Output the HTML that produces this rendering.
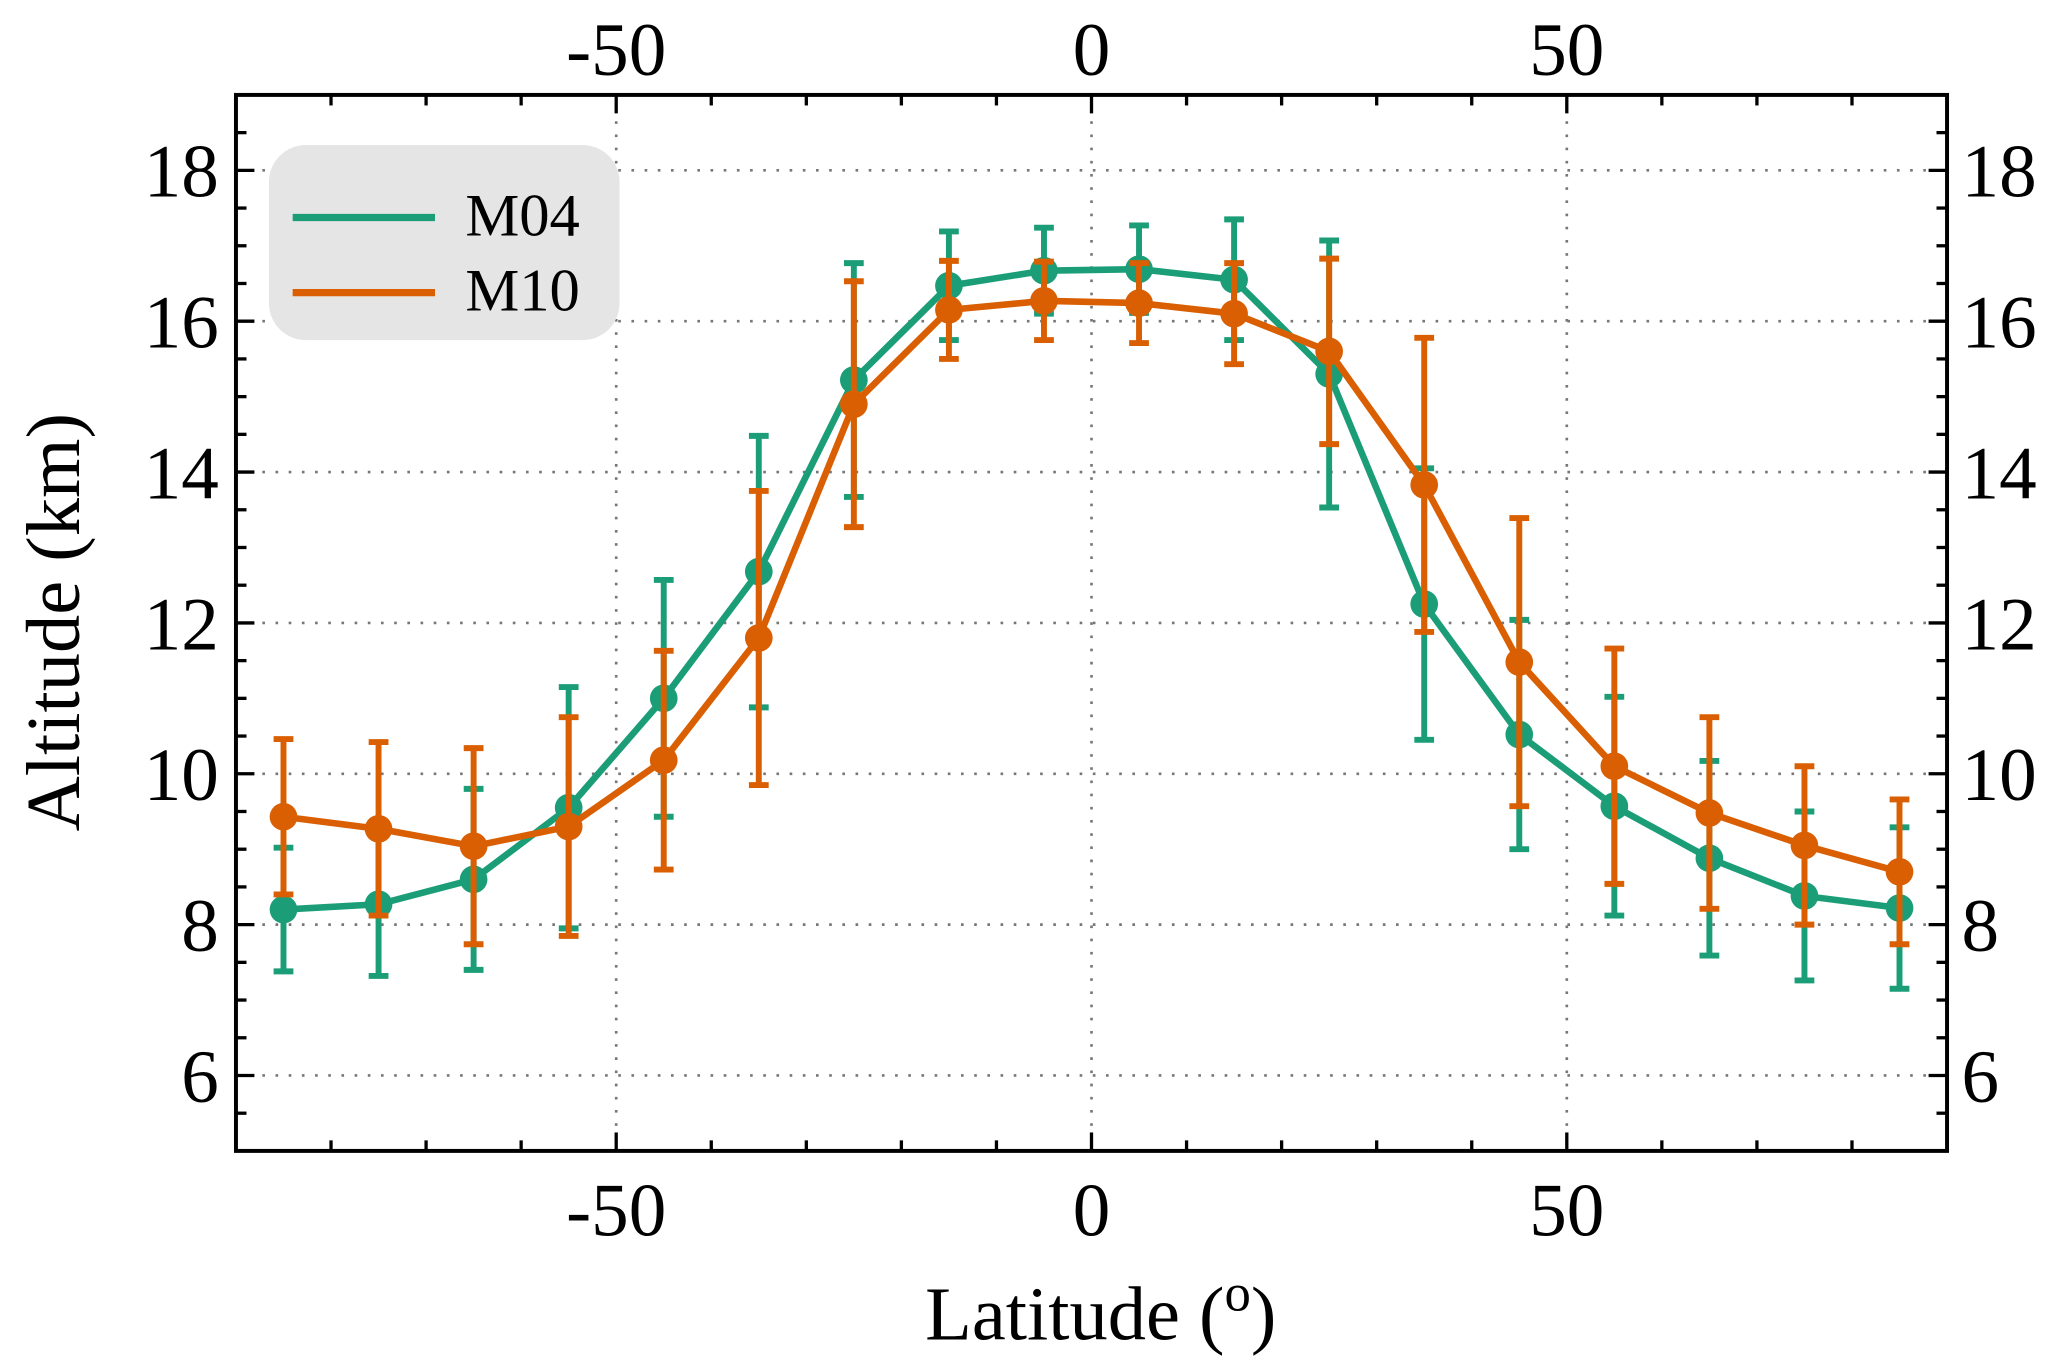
<!DOCTYPE html>
<html><head><meta charset="utf-8"><style>
html,body{margin:0;padding:0;background:#fff;}
svg{display:block;font-family:"Liberation Serif","DejaVu Serif",serif;}
</style></head><body>
<svg id="chart" width="2067" height="1372" viewBox="0 0 1568 1040.7" preserveAspectRatio="none" xmlns="http://www.w3.org/2000/svg">
<g id="grid"></g>
<g id="series"></g>
<g id="axes"></g>
<g id="legend">
<rect x="204" y="110" width="266" height="148" rx="28" fill="#e5e5e5"/>
<line x1="222" x2="330" y1="165" y2="165" stroke="#1b9e77" stroke-width="5.5"/>
<text x="353" y="168" font-size="46" dominant-baseline="middle">M04</text>
<line x1="222" x2="330" y1="222" y2="222" stroke="#d95f02" stroke-width="5.5"/>
<text x="353" y="225" font-size="46" dominant-baseline="middle">M10</text>
</g>
<text x="835" y="1016" font-size="58" text-anchor="middle">Latitude  (<tspan font-size="40" dy="-22">o</tspan><tspan dy="22">)</tspan></text>
<text transform="translate(60,472) rotate(-90)" font-size="58" text-anchor="middle">Altitude (km)</text>
</svg>
<script>
const lats = [-85,-75,-65,-55,-45,-35,-25,-15,-5,5,15,25,35,45,55,65,75,85];
const m04 = [8.2,8.27,8.6,9.55,11.0,12.68,15.22,16.47,16.67,16.69,16.55,15.3,12.25,10.52,9.57,8.88,8.38,8.22];
const m04Err = [0.82,0.95,1.2,1.6,1.57,1.8,1.55,0.72,0.57,0.58,0.8,1.77,1.8,1.52,1.45,1.29,1.12,1.07];
const m10 = [9.43,9.27,9.04,9.3,10.18,11.8,14.9,16.15,16.27,16.24,16.1,15.6,13.83,11.48,10.1,9.48,9.05,8.7];
const m10Err = [1.03,1.15,1.3,1.45,1.45,1.95,1.63,0.65,0.52,0.53,0.67,1.23,1.95,1.91,1.56,1.27,1.05,0.96];
const xTicks = [-50,0,50];
const yTicks = [6,8,10,12,14,16,18];

const L=179,R=1477,T=72,B=873, xmin=-90,xmax=90,ymin=5,ymax=19;
const sx=v=>L+(v-xmin)/(xmax-xmin)*(R-L);
const sy=v=>B-(v-ymin)/(ymax-ymin)*(B-T);
const NS='http://www.w3.org/2000/svg';
function mk(tag,attrs,parent){const e=document.createElementNS(NS,tag);for(const k in attrs)e.setAttribute(k,attrs[k]);parent.appendChild(e);return e;}
const grid=document.getElementById('grid'),axes=document.getElementById('axes'),series=document.getElementById('series');
xTicks.forEach(v=>{const g=mk('line',{x1:sx(v),x2:sx(v),y1:T,y2:B,stroke:'#777','stroke-width':2,'stroke-dasharray':'2 8'},grid);

});
yTicks.forEach(v=>{const g=mk('line',{x1:L,x2:R,y1:sy(v),y2:sy(v),stroke:'#777','stroke-width':2,'stroke-dasharray':'2 8'},grid);

});
function draw(vals,errs,color,name){
  for(let i=0;i<lats.length;i++){
    const x=sx(lats[i]),y1=sy(vals[i]+errs[i]),y2=sy(vals[i]-errs[i]);
    const eb=mk('g',{stroke:color,'stroke-width':4.5},series);
    
    
    mk('line',{x1:x,x2:x,y1:y1,y2:y2},eb);
    mk('line',{x1:x-7.5,x2:x+7.5,y1:y1,y2:y1},eb);
    mk('line',{x1:x-7.5,x2:x+7.5,y1:y2,y2:y2},eb);
  }
  const pl=mk('polyline',{points:lats.map((v,i)=>sx(v)+','+sy(vals[i])).join(' '),fill:'none',stroke:color,'stroke-width':5},series);
  
  
  lats.forEach((v,i)=>{const c=mk('circle',{cx:sx(v),cy:sy(vals[i]),r:10.5,fill:color},series);
    
    });
}
draw(m04,m04Err,'#1b9e77','m04');
draw(m10,m10Err,'#d95f02','m10');
const fr=mk('rect',{x:L,y:T,width:R-L,height:B-T,fill:'none',stroke:'#000','stroke-width':3},axes);


for(let v=-80;v<=80;v+=10){const maj=v%50===0,len=maj?14:8;
  mk('line',{x1:sx(v),x2:sx(v),y1:B,y2:B-len,stroke:'#000','stroke-width':2.5},axes);
  mk('line',{x1:sx(v),x2:sx(v),y1:T,y2:T+len,stroke:'#000','stroke-width':2.5},axes);}
for(let v=5.5;v<19;v+=0.5){const maj=Math.abs(v%2)<1e-9,len=maj?14:8;
  mk('line',{x1:L,x2:L+len,y1:sy(v),y2:sy(v),stroke:'#000','stroke-width':2.5},axes);
  mk('line',{x1:R,x2:R-len,y1:sy(v),y2:sy(v),stroke:'#000','stroke-width':2.5},axes);}
xTicks.forEach(v=>{
  const b=mk('text',{x:sx(v),y:937,'font-size':57,'text-anchor':'middle'},axes);b.textContent=v<0?'-'+Math.abs(v):v;
  
  
  const t=mk('text',{x:sx(v),y:57,'font-size':57,'text-anchor':'middle'},axes);t.textContent=v<0?'-'+Math.abs(v):v;
  
  });
yTicks.forEach(v=>{
  const l=mk('text',{x:166,y:sy(v)+20,'font-size':57,'text-anchor':'end'},axes);l.textContent=v;
  
  
  const r=mk('text',{x:1488,y:sy(v)+20,'font-size':57,'text-anchor':'start'},axes);r.textContent=v;
  
  });
</script>
</body></html>
